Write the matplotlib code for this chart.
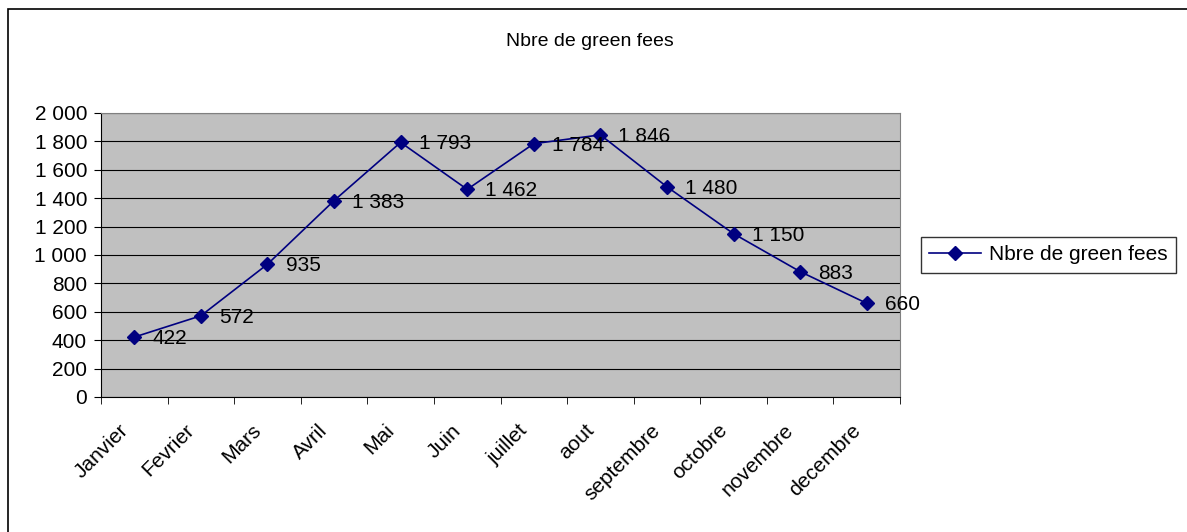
import matplotlib.pyplot as plt
import matplotlib.transforms as mtransforms
from matplotlib.ticker import FuncFormatter, FixedLocator
from matplotlib.patches import Rectangle

plt.rcParams['font.family'] = ['Liberation Sans', 'DejaVu Sans']

# données
mois = ["Janvier", "Fevrier", "Mars", "Avril", "Mai", "Juin", "juillet",
        "aout", "septembre", "octobre", "novembre", "decembre"]
green_fees = [422, 572, 935, 1383, 1793, 1462, 1784, 1846, 1480, 1150, 883, 660]
titre = "Nbre de green fees"


def fmt(v):
    return f"{int(v):,}".replace(",", " ")


fig = plt.figure(figsize=(11.87, 5.32), dpi=100)
ax = fig.add_axes([101 / 1187, 1 - 397 / 532, 799 / 1187, 284 / 532])
ax.set_facecolor("#C0C0C0")

x = list(range(len(mois)))
ax.plot(x, green_fees, color="#000080", marker="D", markersize=7,
        linewidth=1.2, label=titre, zorder=3)
for xi, v in zip(x, green_fees):
    ax.annotate(fmt(v), (xi, v), xytext=(13, -1), textcoords="offset points",
                ha="left", va="center", fontsize=15, zorder=4)

ax.set_xlim(-0.5, len(mois) - 0.5)
ax.set_ylim(0, 2000)
ax.set_yticks(range(0, 2001, 200))
ax.yaxis.set_major_formatter(FuncFormatter(lambda v, p: fmt(v)))
ax.grid(axis="y", color="black", linewidth=0.8)
ax.set_axisbelow(True)

ax.set_xticks(x)
ax.set_xticklabels(mois, rotation=45, ha="right", rotation_mode="anchor")
ax.tick_params(axis="x", which="major", length=0, pad=17, labelsize=15)
# décaler les étiquettes un peu vers la gauche
decal = mtransforms.ScaledTranslation(-16 / 100, 0, fig.dpi_scale_trans)
for lab in ax.get_xticklabels():
    lab.set_transform(lab.get_transform() + decal)
ax.xaxis.set_minor_locator(FixedLocator([i - 0.5 for i in range(len(mois) + 1)]))
ax.tick_params(axis="x", which="minor", length=5, direction="out")
ax.tick_params(axis="y", length=5, labelsize=15, pad=5)

for s in ["top", "right"]:
    ax.spines[s].set_color("#808080")
ax.spines["left"].set_color("black")
ax.spines["bottom"].set_color("black")

fig.text(590 / 1187, 1 - 41 / 532, titre, ha="center", va="center", fontsize=14)

leg = fig.legend(loc="center left", bbox_to_anchor=(921 / 1187, 1 - 255 / 532),
                 fontsize=15, frameon=True, fancybox=False, edgecolor="black",
                 handlelength=2.5, borderpad=0.4, handletextpad=0.35,
                 borderaxespad=0)
leg.get_frame().set_linewidth(1)

fig.patches.append(Rectangle((8 / 1187, -0.05), 1, 1.05 - 9 / 532, transform=fig.transFigure,
                             fill=False, edgecolor="black", linewidth=1.2))

fig.savefig("out.png", dpi=100)
